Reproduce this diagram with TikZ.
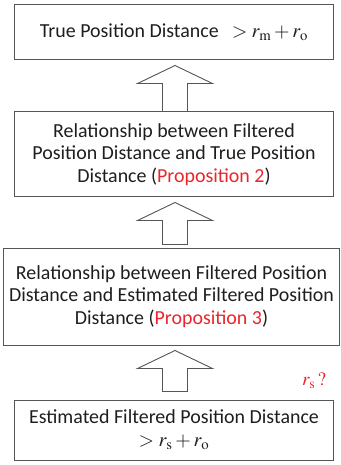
\documentclass[tikz,border=0pt]{standalone}
\usepackage{mathptmx}
\usepackage{fontspec}
\setmainfont{Carlito}
\usetikzlibrary{calc}
\definecolor{txt}{HTML}{1E1E1E}
\definecolor{edge}{HTML}{555555}
\definecolor{prop}{HTML}{E8262B}
\newcommand\blockup[3]{%
  \coordinate (T) at ($(#2.south)+(0,5)$);
  \coordinate (Tx) at (175,0);
  \coordinate (tip) at (Tx |- T);
  \coordinate (sb) at ($(Tx |- #1.north)+(0,-#3)$);
  \draw[blockarrow] (tip) -- ++(37.5,18) -- ++(-25,0) -- ($(sb)+(12.5,0)$)
     -- ($(sb)+(-12.5,0)$) -- ($(tip)+(-12.5,18)$) -- ($(tip)+(-37.5,18)$) -- cycle;
}
\begin{document}
\begin{tikzpicture}[x=1bp,y=-1bp,
  box/.style={draw=edge,line width=1bp,text=txt,align=center,inner sep=0pt,
    font=\fontsize{20}{22.8}\selectfont},
  blockarrow/.style={draw=edge,line width=0.9bp,fill=white}]
\useasboundingbox (0,0) rectangle (340,465);
\node[box,minimum width=318bp,minimum height=55bp] (b1) at (174,32.5)
  {True Position Distance\hspace{13bp}$>r_{\mathrm{m}}+r_{\mathrm{o}}$};
\node[box,minimum width=318bp,minimum height=85bp] (b2) at (174,154.5)
  {Relationship between Filtered\\Position Distance and True Position\\Distance ({\color{prop}Proposition 2})};
\node[box,minimum width=335bp,minimum height=97bp] (b3) at (171.5,296.5)
  {Relationship between Filtered Position\\Distance and Estimated Filtered Position\\Distance ({\color{prop}Proposition 3})};
\node[box,minimum width=318bp,minimum height=60bp] (b4) at (174,430)
  {Estimated Filtered Position Distance\\$>r_{\mathrm{s}}+r_{\mathrm{o}}$};
\blockup{b2}{b1}{0}
\blockup{b3}{b2}{3}
\blockup{b4}{b3}{8}
\node[text=prop,font=\fontsize{19}{22.5}\selectfont,inner sep=0pt] (rs) at (314,381) {$r_{\mathrm{s}}\,?$};
\end{tikzpicture}
\end{document}
